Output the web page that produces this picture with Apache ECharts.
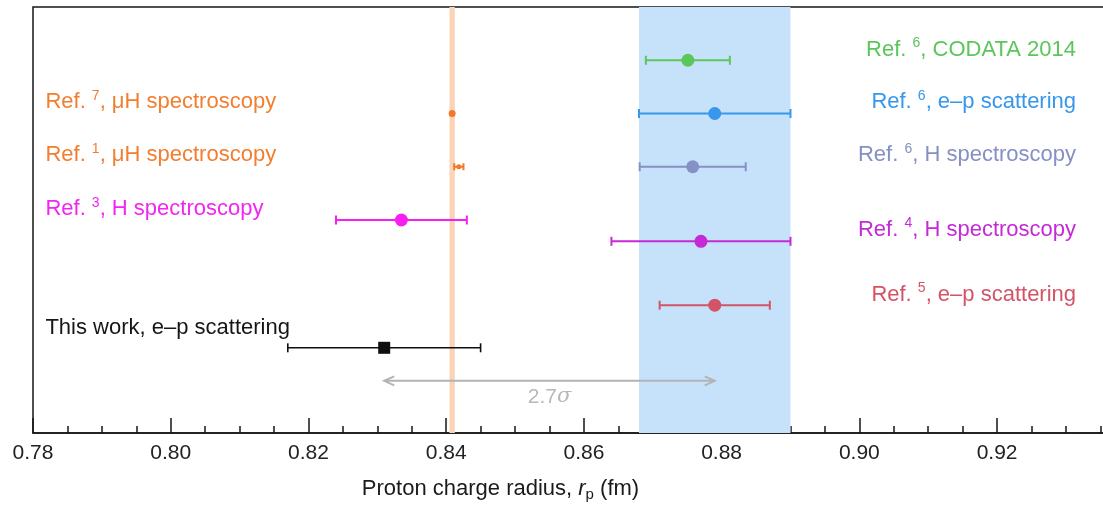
<!DOCTYPE html>
<html><head><meta charset="utf-8">
<script src="https://cdn.jsdelivr.net/npm/echarts@6/dist/echarts.min.js"></script>
<style>html,body{margin:0;padding:0;background:#fff;overflow:hidden}#c{width:1103px;height:505px}</style>
</head><body><div id="c"></div>
<script>
// ---- data ----
const refNumbers   = ['6', '6', '6', '4', '5', '7', '1', '3', ''];
const descriptions = ['CODATA 2014', 'e–p scattering', 'H spectroscopy', 'H spectroscopy', 'e–p scattering',
                      'μH spectroscopy', 'μH spectroscopy', 'H spectroscopy', 'This work, e–p scattering'];
const radii        = [0.8751, 0.879, 0.8758, 0.877, 0.879, 0.84087, 0.84184, 0.8335, 0.831];
const uncertainty  = [0.0061, 0.011, 0.0077, 0.013, 0.008, 0.00039, 0.00067, 0.0095, 0.014];
const rows         = [7, 6, 5, 3.6, 2.4, 6, 5, 4, 1.6];
const labelRows    = [7.2, 6.22, 5.22, 3.82, 2.6, 6.22, 5.22, 4.21, 1.97];
const labelSide    = ['right', 'right', 'right', 'right', 'right', 'left', 'left', 'left', 'left'];
const codataEpBand = [0.868, 0.890];
const muonicBand   = [0.84048, 0.84126];
const sigmaArrow   = [0.831, 0.879];
const sigmaRow     = 0.98;
const xTicks       = { min: 0.78, major: 0.02, minor: 0.005 };

// ---- styles ----
const palette = ['#5bc659', '#3797ec', '#8590c4', '#c42ad6', '#d35466', '#f2782a', '#f2782a', '#f81ef2', '#0e0e0e'];
const textPalette = ['#5bc659', '#3797ec', '#8590c4', '#c42ad6', '#d35466', '#f27e30', '#f27e30', '#f226f0', '#161616'];
const symbols = ['circle', 'circle', 'circle', 'circle', 'circle', 'circle', 'circle', 'circle', 'rect'];
const symSizes = [13, 13, 13, 13, 13, 7, 5, 13, 12];
const FONT = 'Liberation Sans, Arial, sans-serif';
const xMax = 0.93611;
const leftTextX = 0.7818, rightTextX = 0.93147;

const barData = radii.map((r, i) => [r - uncertainty[i], rows[i], r + uncertainty[i]]);
const pointData = radii.map((r, i) => ({
  value: [r, rows[i]], symbol: symbols[i], symbolSize: symSizes[i],
  itemStyle: { color: palette[i], opacity: 1 }
}));
const labelData = descriptions.map((d, i) => ({
  value: [labelSide[i] === 'right' ? rightTextX : leftTextX, labelRows[i]],
  name: d,
  itemStyle: { opacity: 1 },
  label: {
    show: true,
    position: labelSide[i] === 'right' ? 'left' : 'right',
    distance: 0,
    formatter: refNumbers[i] ? '{t|Ref. }{s|' + refNumbers[i] + '}{t|, ' + d + '}' : '{t|' + d + '}',
    rich: {
      t: { fontSize: 22, color: textPalette[i], fontFamily: FONT, lineHeight: 26 },
      s: { fontSize: 14, color: textPalette[i], fontFamily: FONT, lineHeight: 15, verticalAlign: 'top' }
    }
  }
}));

const chart = echarts.init(document.getElementById('c'), null, { renderer: 'canvas' });
chart.setOption({
  animation: false,
  backgroundColor: '#ffffff',
  grid: { left: 33, top: 7, width: 1075, height: 426, show: true, borderColor: '#161616', borderWidth: 1.5,
          backgroundColor: 'transparent', containLabel: false, outerBoundsMode: 'none' },
  xAxis: [
    {
      type: 'value', min: xTicks.min, max: xMax, interval: xTicks.major, position: 'bottom',
      axisLine: { lineStyle: { color: '#161616', width: 1.5 } },
      axisTick: { inside: true, length: 15, lineStyle: { color: '#161616', width: 1.5 } },
      axisLabel: { formatter: v => v.toFixed(2), fontSize: 21, color: '#222', fontFamily: FONT, margin: 10, showMaxLabel: false },
      splitLine: { show: false },
      name: '{a|Proton charge radius, }{i|r}{sub|p}{a| (fm)}',
      nameLocation: 'middle', nameGap: 43,
      nameTextStyle: {
        padding: [0, 140, 0, 0],
        rich: {
          a: { fontSize: 22, color: '#1a1a1a', fontFamily: FONT, lineHeight: 26 },
          i: { fontSize: 22, color: '#1a1a1a', fontFamily: FONT, fontStyle: 'italic', lineHeight: 26 },
          sub: { fontSize: 15, color: '#1a1a1a', fontFamily: FONT, lineHeight: 12, verticalAlign: 'bottom' }
        }
      }
    },
    {
      type: 'value', min: xTicks.min, max: xMax, interval: xTicks.minor, position: 'bottom',
      axisLine: { show: false },
      axisTick: { inside: true, length: 7, lineStyle: { color: '#161616', width: 1.5 } },
      axisLabel: { show: false }, splitLine: { show: false }
    }
  ],
  yAxis: { type: 'value', min: 0, max: 8, show: false, splitLine: { show: false } },
  series: [
    {
      type: 'scatter', data: [], silent: true, z: 0,
      markArea: {
        silent: true,
        data: [
          [{ xAxis: codataEpBand[0], itemStyle: { color: '#c6e2fb', opacity: 1 } }, { xAxis: codataEpBand[1] }],
          [{ xAxis: muonicBand[0], itemStyle: { color: '#fbd4b8', opacity: 1 } }, { xAxis: muonicBand[1] }]
        ]
      }
    },
    {
      type: 'custom', z: 3,
      data: barData,
      encode: { x: [0, 2], y: 1 },
      renderItem(params, api) {
        const i = params.dataIndex;
        const y = api.value(1);
        const p1 = api.coord([api.value(0), y]);
        const p2 = api.coord([api.value(2), y]);
        if ((p2[0] - p1[0]) / 2 < symSizes[i] / 2) return { type: 'group', children: [] };
        const c = palette[i];
        const lw = i === 8 ? 1.6 : 2;
        const cap = i === 6 ? 3.5 : 4.5;
        const st = { stroke: c, lineWidth: lw };
        return { type: 'group', children: [
          { type: 'line', shape: { x1: p1[0], y1: p1[1], x2: p2[0], y2: p2[1] }, style: st },
          { type: 'line', shape: { x1: p1[0], y1: p1[1] - cap, x2: p1[0], y2: p1[1] + cap }, style: st },
          { type: 'line', shape: { x1: p2[0], y1: p2[1] - cap, x2: p2[0], y2: p2[1] + cap }, style: st }
        ] };
      }
    },
    { type: 'scatter', z: 4, data: pointData },
    {
      type: 'custom', z: 3,
      data: [[sigmaArrow[0], sigmaRow, sigmaArrow[1]]],
      encode: { x: [0, 2], y: 1 },
      renderItem(params, api) {
        const y = api.value(1);
        const a = api.coord([api.value(0), y]);
        const b = api.coord([api.value(2), y]);
        const st = { stroke: '#b3b3b3', lineWidth: 2, fill: null };
        const h = 10, w = 4.5;
        return { type: 'group', children: [
          { type: 'line', shape: { x1: a[0] + 1, y1: a[1], x2: b[0] - 1, y2: b[1] }, style: st },
          { type: 'polyline', shape: { points: [[a[0] + h, a[1] - w], [a[0], a[1]], [a[0] + h, a[1] + w]] }, style: st },
          { type: 'polyline', shape: { points: [[b[0] - h, b[1] - w], [b[0], b[1]], [b[0] - h, b[1] + w]] }, style: st },
          { type: 'text', x: (a[0] + b[0]) / 2, y: a[1] + 16,
            style: { text: '{n|2.7}{g|σ}', align: 'center', verticalAlign: 'middle',
              rich: { n: { fontSize: 21, fill: '#b8b8b8', fontFamily: FONT },
                      g: { fontSize: 21, fill: '#b8b8b8', fontFamily: 'DejaVu Serif, serif', fontStyle: 'italic' } } } }
        ] };
      }
    },
    { type: 'scatter', z: 5, symbolSize: 0, silent: true, data: labelData }
  ]
});
</script>
</body></html>
